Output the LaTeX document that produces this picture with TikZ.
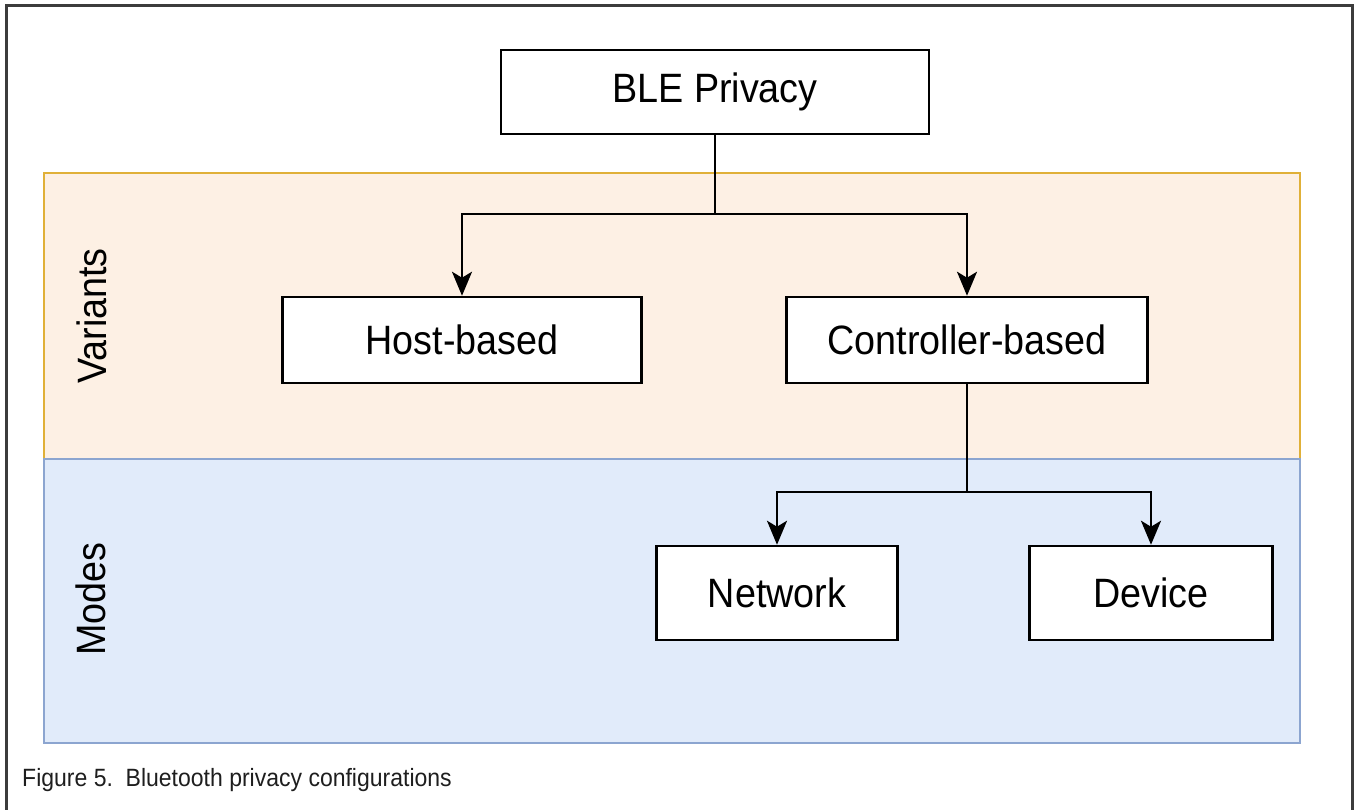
\documentclass[tikz,border=0pt]{standalone}
\usepackage{fontspec}
\setmainfont[FakeStretch=0.92]{Liberation Sans}
\usetikzlibrary{arrows.meta}
\definecolor{framegray}{RGB}{60,60,60}
\definecolor{varfill}{RGB}{253,240,228}
\definecolor{varline}{RGB}{224,176,56}
\definecolor{modefill}{RGB}{225,235,250}
\definecolor{modeline}{RGB}{140,165,208}
\definecolor{captiongray}{RGB}{30,30,30}

\begin{document}
\begin{tikzpicture}[x=1pt,y=-1pt,
  box/.style={draw=black, line width=2.5pt, fill=white, inner sep=0pt,
    font=\fontsize{41}{48}\selectfont},
  band/.style={line width=2.5pt},
  link/.style={line width=2.5pt, -{Stealth[length=24pt,width=20pt,inset=6pt]}}]

\useasboundingbox (0,0) rectangle (1354,810);

% Frame
\draw[framegray, line width=3pt] (6,812) -- (6,6) -- (1352,6) -- (1352,812);

% Bands
\filldraw[band, fill=varfill, draw=varline] (44,173) rectangle (1300,459);
\filldraw[band, fill=modefill, draw=modeline] (44,459) rectangle (1300,743);

% Band labels
\node[rotate=90, font=\fontsize{41}{48}\selectfont] (variants) at (92,316) {Variants};
\node[rotate=90, font=\fontsize{41}{48}\selectfont] (modes) at (91,599) {Modes};

% Boxes
\node[box, minimum width=428pt, minimum height=84pt] (ble) at (715,92) {BLE Privacy};
\node[box, minimum width=359pt, minimum height=86pt] (host) at (462,340) {Host-based};
\node[box, minimum width=361pt, minimum height=86pt] (ctrl) at (967,340) {Controller-based};
\node[box, minimum width=241pt, minimum height=94pt] (net) at (777,593) {Network};
\node[box, minimum width=243pt, minimum height=94pt] (dev) at (1151,593) {Device};

% Connectors
\coordinate (split1) at (715,214);
\coordinate (split2) at (967,492);
\draw[line width=2.5pt] (ble) -- (split1);
\draw[link] (split1) -| (host);
\draw[link] (split1) -| (ctrl);
\draw[line width=2.5pt] (ctrl) -- (split2);
\draw[link] (split2) -| (net);
\draw[link] (split2) -| (dev);

% Caption
\node[anchor=base west, inner sep=0pt, text=captiongray,
  font=\fontsize{25}{30}\selectfont] (caption) at (22,786)
  {Figure 5.\ \ Bluetooth privacy configurations};

\end{tikzpicture}
\end{document}
